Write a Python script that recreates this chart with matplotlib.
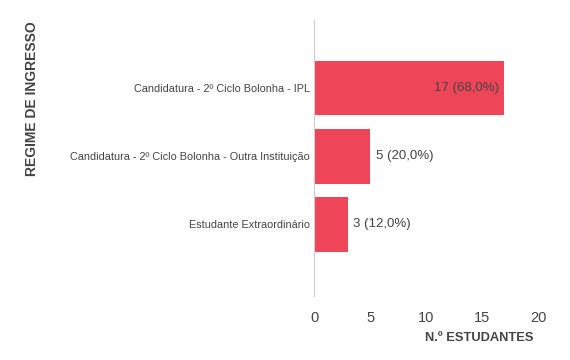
import matplotlib
matplotlib.use("Agg")
import matplotlib.pyplot as plt

# dados
categorias = ["Candidatura - 2º Ciclo Bolonha - IPL",
              "Candidatura - 2º Ciclo Bolonha - Outra Instituição",
              "Estudante Extraordinário"]
estudantes = [17, 5, 3]
percentagens = [68.0, 20.0, 12.0]
x_ticks = [0, 5, 10, 15, 20]

plt.rcParams['font.family'] = ['Liberation Sans', 'DejaVu Sans']

cor_barra = '#EF4558'
cor_texto = '#444444'

fig = plt.figure(figsize=(5.7, 3.6), dpi=100)
ax = fig.add_axes([0.551, 0.178, 0.393, 0.766])

pos = list(range(len(categorias)))
ax.barh(pos, estudantes, height=0.8, color=cor_barra)

for p, v, pc in zip(pos, estudantes, percentagens):
    txt = f"{v} ({pc:.1f}%)".replace('.', ',')
    if v > 10:
        ax.text(v - 0.5, p, txt, va='center', ha='right', fontsize=9.5, color=cor_texto)
    else:
        ax.text(v + 0.5, p, txt, va='center', ha='left', fontsize=9.5, color=cor_texto)

ax.set_ylim(3.05, -1.0)
ax.set_xlim(0, 20)
ax.set_yticks(pos)
ax.set_yticklabels(categorias, fontsize=7.8, color=cor_texto)
ax.set_xticks(x_ticks)
ax.set_xticklabels([str(t) for t in x_ticks], fontsize=10.5, color=cor_texto)
ax.tick_params(axis='both', length=0)
ax.tick_params(axis='x', pad=11)
ax.tick_params(axis='y', pad=3)

for s in ['top', 'right', 'bottom']:
    ax.spines[s].set_visible(False)
ax.spines['left'].set_color('#cccccc')

fig.text(0.936, 0.045, "N.º ESTUDANTES", ha='right', va='bottom',
         fontsize=9.3, fontweight='bold', color=cor_texto)
fig.text(0.056, 0.94, "REGIME DE INGRESSO", ha='center', va='top', rotation=90,
         fontsize=10, fontweight='bold', color=cor_texto)

fig.savefig("out.png", dpi=100)
